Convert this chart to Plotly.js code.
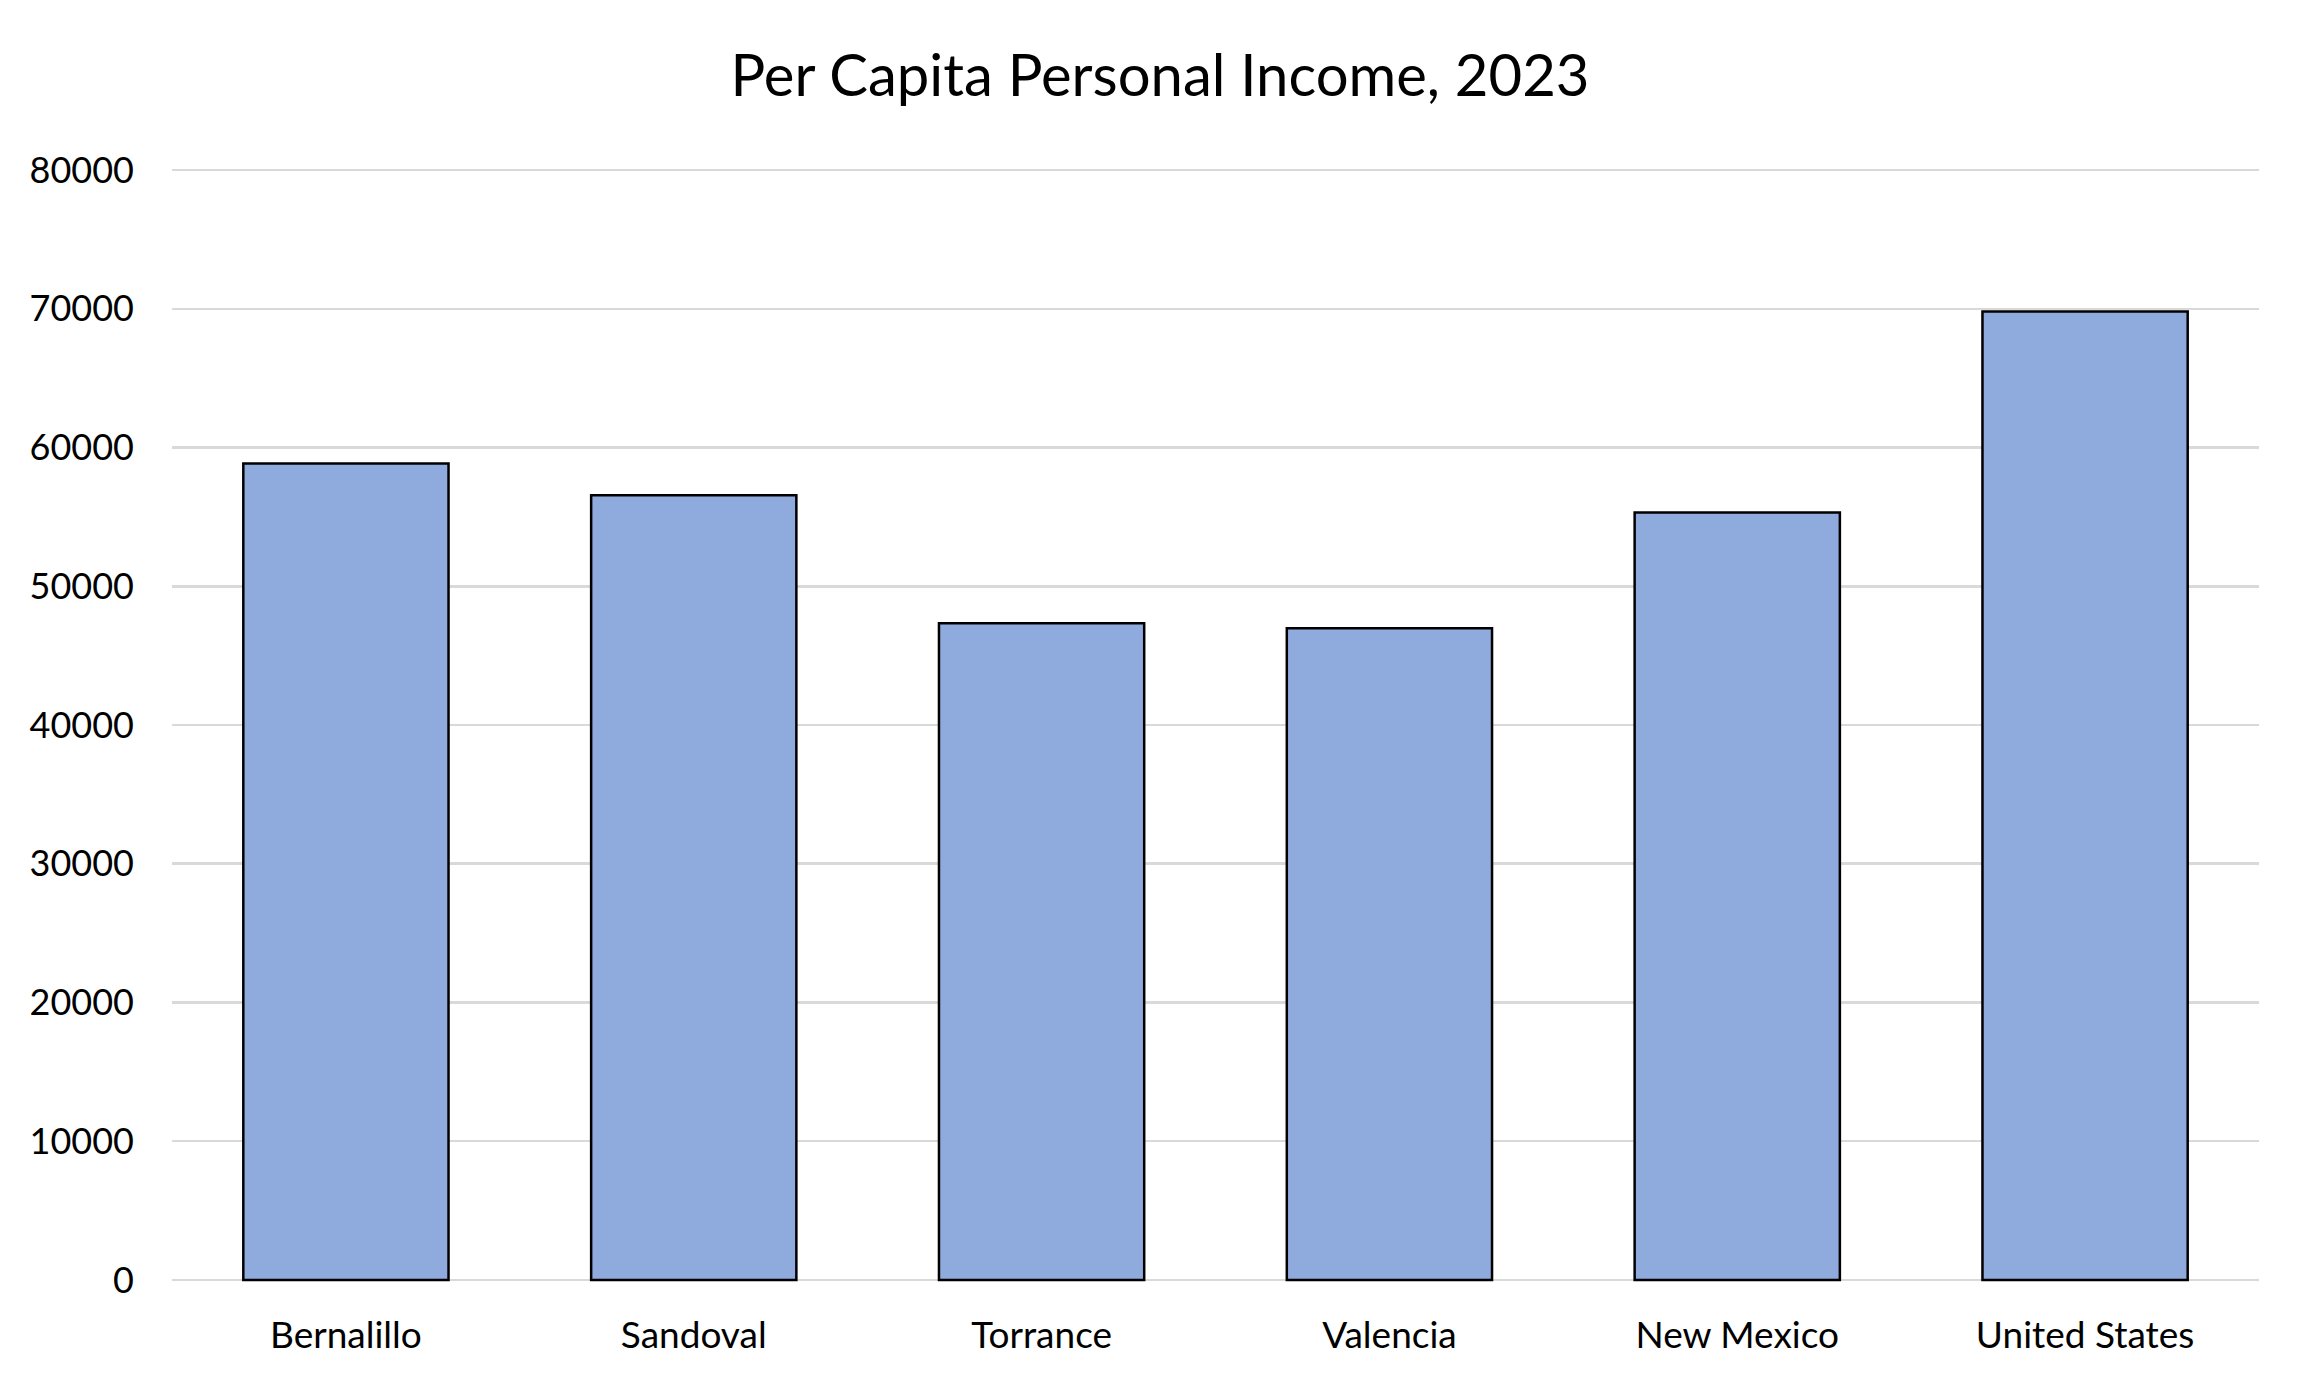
<!DOCTYPE html>
<html>
<head>
<meta charset="utf-8">
<script src="https://cdn.plot.ly/plotly-3.0.1.min.js"></script>
<style>
  html, body { margin: 0; padding: 0; background: #ffffff; }
  #chart { width: 2310px; height: 1386px; }
</style>
</head>
<body>
<div id="chart"></div>
<script>
const categories = ["Bernalillo", "Sandoval", "Torrance", "Valencia", "New Mexico", "United States"];
const incomeValues = [58850, 56560, 47330, 46970, 55310, 69810];
const yTickValues = [0, 10000, 20000, 30000, 40000, 50000, 60000, 70000, 80000];
const yTickLabels = ["0", "10000", "20000", "30000", "40000", "50000", "60000", "70000", "80000"];
const chartTitle = "Per Capita Personal Income, 2023";

const FONT = "Lato, 'Open Sans', sans-serif";

const trace = {
  type: "bar",
  x: categories,
  y: incomeValues,
  marker: { color: "#8FAADC", line: { color: "#000000", width: 2.5 } },
  hoverinfo: "x+y"
};

const layout = {
  width: 2310,
  height: 1386,
  paper_bgcolor: "#ffffff",
  plot_bgcolor: "#ffffff",
  margin: { l: 172, r: 51, t: 168, b: 104 },
  bargap: 0.41,
  showlegend: false,
  font: { family: FONT, color: "#000000", size: 35 },
  title: {
    text: chartTitle,
    font: { family: FONT, size: 58, color: "#000000" },
    x: 1160 / 2310, xanchor: "center", xref: "container",
    y: 1 - 76 / 1386, yanchor: "middle", yref: "container"
  },
  xaxis: {
    type: "category",
    showgrid: false,
    zeroline: false,
    showline: false,
    ticks: "",
    tickfont: { family: FONT, size: 37, color: "#000000" },
    ticklabelstandoff: 28
  },
  yaxis: {
    range: [-150, 80150],
    tickmode: "array",
    tickvals: yTickValues,
    ticktext: yTickLabels,
    showgrid: true,
    gridcolor: "#D9D9D9",
    gridwidth: 2.5,
    zeroline: false,
    showline: false,
    ticks: "",
    tickfont: { family: FONT, size: 36, color: "#000000" },
    ticklabelstandoff: 37
  }
};

Plotly.newPlot("chart", [trace], layout, { staticPlot: true, displayModeBar: false });
</script>
</body>
</html>
